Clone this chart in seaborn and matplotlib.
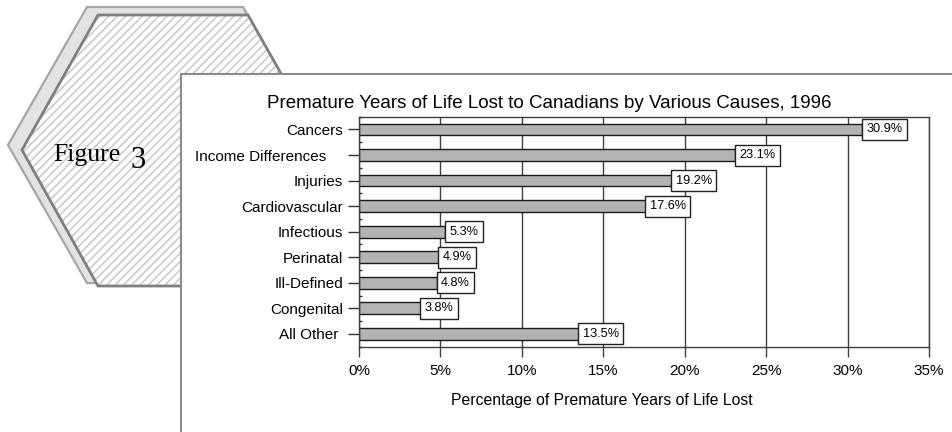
import matplotlib
matplotlib.use("Agg")
import matplotlib.pyplot as plt
from matplotlib.patches import Polygon, Rectangle
import seaborn as sns
import pandas as pd
import numpy as np

# data
causes = ['Cancers', 'Income Differences', 'Injuries', 'Cardiovascular', 'Infectious',
          'Perinatal', 'Ill-Defined', 'Congenital', 'All Other']
tick_labels = ['Cancers', 'Income Differences    ', 'Injuries', 'Cardiovascular', 'Infectious',
               'Perinatal', 'Ill-Defined', 'Congenital', 'All Other ']
pct_lost = [30.9, 23.1, 19.2, 17.6, 5.3, 4.9, 4.8, 3.8, 13.5]
x_ticks = [0, 5, 10, 15, 20, 25, 30, 35]

sns.set_theme(style='white')
plt.rcParams['font.family'] = ['Liberation Sans', 'DejaVu Sans']
plt.rcParams['hatch.linewidth'] = 1.2

W, H = 952, 432
fig = plt.figure(figsize=(W / 100, H / 100), dpi=100)
fig.patch.set_facecolor('white')

# background layer in pixel coords (hexagon badge + white panel)
bg = fig.add_axes([0, 0, 1, 1])
bg.set_xlim(0, W)
bg.set_ylim(H, 0)
bg.axis('off')

back_hex = [(87, 7), (243, 7), (322, 145), (243, 283), (87, 283), (8, 145)]
front_hex = [(98, 15), (248, 15), (324, 150), (248, 286), (98, 286), (22, 150)]
bg.add_patch(Polygon(back_hex, closed=True, facecolor='#e3e3e3', edgecolor='#a6a6a6', lw=1.6))
bg.add_patch(Polygon(front_hex, closed=True, facecolor='white', edgecolor='#cccccc', lw=0, hatch='////'))
bg.add_patch(Polygon(front_hex, closed=True, facecolor='none', edgecolor='#7f7f7f', lw=2))
bg.text(53, 161, 'Figure', family='Liberation Serif', fontsize=18.5, color='black', va='baseline')
bg.text(130, 168, '3', family='Liberation Serif', fontsize=22, color='black', va='baseline')
bg.add_patch(Rectangle((181, 74), 800, 400, facecolor='white', edgecolor='#8c8c8c', lw=1.5))

# main bar chart
ax = fig.add_axes([359 / W, 1 - 346.7 / H, (929 - 359) / W, 230 / H])
df = pd.DataFrame({'cause': causes, 'pct': pct_lost})
sns.barplot(data=df, x='pct', y='cause', orient='h', color='#b3b3b3', saturation=1,
            edgecolor='#1a1a1a', linewidth=1, width=0.46, ax=ax)

ax.set_xlim(0, 35)
ax.set_ylim(8.5, -0.5)
ax.set_xticks(x_ticks)
ax.set_xticklabels([f'{t}%' for t in x_ticks])
ax.set_yticks(range(len(causes)))
ax.set_yticklabels(tick_labels)
ax.set_yticks(np.arange(-0.5, len(causes), 1), minor=True)
ax.tick_params(axis='y', which='major', left=True, length=8, width=1, color='#333333',
               labelsize=11, pad=3.5, labelcolor='black')
ax.tick_params(axis='y', which='minor', left=True, direction='in', length=2, width=1, color='#333333')
ax.tick_params(axis='x', which='major', bottom=True, length=7.2, width=1, color='#404040',
               labelsize=11, pad=5, labelcolor='black')

ax.grid(axis='x', color='#404040', lw=1)
ax.set_axisbelow(True)
for s in ax.spines.values():
    s.set_visible(True)
    s.set_color('#404040')
    s.set_linewidth(1)

ax.set_ylabel('')
ax.set_xlabel('Percentage of Premature Years of Life Lost', fontsize=11.3, color='black', va='center')
ax.xaxis.set_label_coords(0.426, -0.236)
ax.text(0.334, 1.058, 'Premature Years of Life Lost to Canadians by Various Causes, 1996',
        transform=ax.transAxes, ha='center', va='center', fontsize=13.5, color='black')

for i, v in enumerate(pct_lost):
    ax.annotate(f'{v}%', xy=(v, i), xytext=(2.8, 0), textcoords='offset points',
                ha='left', va='center', fontsize=9.2, color='black',
                bbox=dict(boxstyle='square,pad=0.35', facecolor='white', edgecolor='#222222', lw=1))

fig.savefig('out.png', dpi=100)
